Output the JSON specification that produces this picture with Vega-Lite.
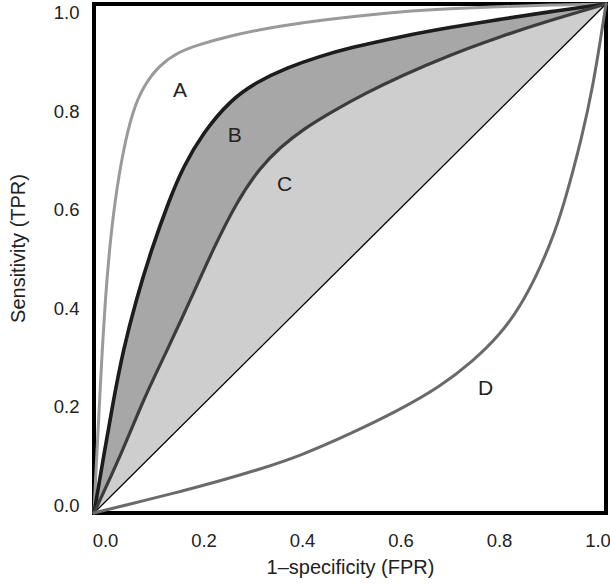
{
  "$schema": "https://vega.github.io/schema/vega-lite/v6.json",
  "autosize": "none",
  "width": 512,
  "height": 509,
  "padding": {"left": 94, "top": 4, "right": 4, "bottom": 71},
  "background": "white",
  "config": {
    "view": {"stroke": "black", "strokeWidth": 4},
    "axis": {
      "grid": false, "ticks": false, "domain": false, "labelFlush": false,
      "labelFont": "Liberation Sans",
      "labelFontSize": 18.5, "labelColor": "#222",
      "titleFont": "Liberation Sans",
      "titleFontSize": 20, "titleFontWeight": "normal", "titleColor": "#222"
    }
  },
  "datasets": {
    "curves": [
      {"curve": "A", "fpr": 0, "tpr": 0},
      {"curve": "A", "fpr": 0.003, "tpr": 0.065},
      {"curve": "A", "fpr": 0.006, "tpr": 0.124},
      {"curve": "A", "fpr": 0.011, "tpr": 0.222},
      {"curve": "A", "fpr": 0.016, "tpr": 0.320},
      {"curve": "A", "fpr": 0.022, "tpr": 0.418},
      {"curve": "A", "fpr": 0.030, "tpr": 0.517},
      {"curve": "A", "fpr": 0.041, "tpr": 0.615},
      {"curve": "A", "fpr": 0.057, "tpr": 0.713},
      {"curve": "A", "fpr": 0.076, "tpr": 0.792},
      {"curve": "A", "fpr": 0.098, "tpr": 0.841},
      {"curve": "A", "fpr": 0.128, "tpr": 0.880},
      {"curve": "A", "fpr": 0.165, "tpr": 0.906},
      {"curve": "A", "fpr": 0.207, "tpr": 0.921},
      {"curve": "A", "fpr": 0.266, "tpr": 0.937},
      {"curve": "A", "fpr": 0.324, "tpr": 0.950},
      {"curve": "A", "fpr": 0.402, "tpr": 0.963},
      {"curve": "A", "fpr": 0.500, "tpr": 0.975},
      {"curve": "A", "fpr": 0.598, "tpr": 0.985},
      {"curve": "A", "fpr": 0.695, "tpr": 0.991},
      {"curve": "A", "fpr": 0.793, "tpr": 0.995},
      {"curve": "A", "fpr": 0.891, "tpr": 0.998},
      {"curve": "A", "fpr": 1, "tpr": 1},
      {"curve": "B", "fpr": 0, "tpr": 0},
      {"curve": "B", "fpr": 0.021, "tpr": 0.124},
      {"curve": "B", "fpr": 0.038, "tpr": 0.222},
      {"curve": "B", "fpr": 0.057, "tpr": 0.320},
      {"curve": "B", "fpr": 0.082, "tpr": 0.418},
      {"curve": "B", "fpr": 0.112, "tpr": 0.517},
      {"curve": "B", "fpr": 0.147, "tpr": 0.615},
      {"curve": "B", "fpr": 0.174, "tpr": 0.680},
      {"curve": "B", "fpr": 0.213, "tpr": 0.747},
      {"curve": "B", "fpr": 0.266, "tpr": 0.811},
      {"curve": "B", "fpr": 0.318, "tpr": 0.847},
      {"curve": "B", "fpr": 0.377, "tpr": 0.875},
      {"curve": "B", "fpr": 0.440, "tpr": 0.897},
      {"curve": "B", "fpr": 0.500, "tpr": 0.914},
      {"curve": "B", "fpr": 0.598, "tpr": 0.936},
      {"curve": "B", "fpr": 0.695, "tpr": 0.954},
      {"curve": "B", "fpr": 0.793, "tpr": 0.970},
      {"curve": "B", "fpr": 0.891, "tpr": 0.985},
      {"curve": "B", "fpr": 1, "tpr": 1},
      {"curve": "C", "fpr": 0, "tpr": 0},
      {"curve": "C", "fpr": 0.057, "tpr": 0.124},
      {"curve": "C", "fpr": 0.096, "tpr": 0.222},
      {"curve": "C", "fpr": 0.143, "tpr": 0.320},
      {"curve": "C", "fpr": 0.188, "tpr": 0.418},
      {"curve": "C", "fpr": 0.232, "tpr": 0.517},
      {"curve": "C", "fpr": 0.279, "tpr": 0.612},
      {"curve": "C", "fpr": 0.324, "tpr": 0.678},
      {"curve": "C", "fpr": 0.363, "tpr": 0.718},
      {"curve": "C", "fpr": 0.410, "tpr": 0.755},
      {"curve": "C", "fpr": 0.467, "tpr": 0.790},
      {"curve": "C", "fpr": 0.533, "tpr": 0.826},
      {"curve": "C", "fpr": 0.598, "tpr": 0.858},
      {"curve": "C", "fpr": 0.695, "tpr": 0.900},
      {"curve": "C", "fpr": 0.793, "tpr": 0.936},
      {"curve": "C", "fpr": 0.891, "tpr": 0.968},
      {"curve": "C", "fpr": 1, "tpr": 1},
      {"curve": "D", "fpr": 0, "tpr": 0},
      {"curve": "D", "fpr": 0.104, "tpr": 0.026},
      {"curve": "D", "fpr": 0.168, "tpr": 0.042},
      {"curve": "D", "fpr": 0.246, "tpr": 0.063},
      {"curve": "D", "fpr": 0.324, "tpr": 0.086},
      {"curve": "D", "fpr": 0.402, "tpr": 0.112},
      {"curve": "D", "fpr": 0.500, "tpr": 0.155},
      {"curve": "D", "fpr": 0.598, "tpr": 0.203},
      {"curve": "D", "fpr": 0.676, "tpr": 0.248},
      {"curve": "D", "fpr": 0.740, "tpr": 0.298},
      {"curve": "D", "fpr": 0.793, "tpr": 0.350},
      {"curve": "D", "fpr": 0.832, "tpr": 0.405},
      {"curve": "D", "fpr": 0.865, "tpr": 0.468},
      {"curve": "D", "fpr": 0.891, "tpr": 0.528},
      {"curve": "D", "fpr": 0.916, "tpr": 0.598},
      {"curve": "D", "fpr": 0.955, "tpr": 0.745},
      {"curve": "D", "fpr": 0.975, "tpr": 0.843},
      {"curve": "D", "fpr": 0.988, "tpr": 0.922},
      {"curve": "D", "fpr": 1, "tpr": 1}
    ],
    "diag": [
      {"fpr": 0, "tpr": 0},
      {"fpr": 1, "tpr": 1}
    ],
    "labels": [
      {"curve": "A", "fpr": 0.168, "tpr": 0.829},
      {"curve": "B", "fpr": 0.275, "tpr": 0.741},
      {"curve": "C", "fpr": 0.372, "tpr": 0.644},
      {"curve": "D", "fpr": 0.765, "tpr": 0.243}
    ]
  },
  "layer": [
    {
      "data": {"name": "curves"},
      "transform": [{"filter": "datum.curve === 'B'"}],
      "mark": {"type": "area", "interpolate": "basis", "color": "#a7a7a7"},
      "encoding": {
        "x": {"field": "fpr", "type": "quantitative",
              "scale": {"domain": [0, 1], "nice": false, "zero": false},
              "axis": {"title": "1\u2013specificity (FPR)", "values": [0, 0.2, 0.4, 0.6, 0.8, 1], "format": ".1f",
                       "labelPadding": 18, "labelOffset": {"expr": "11 - 19.5*datum.value"},
                       "titleY": 60, "titleBaseline": "alphabetic"}},
        "y": {"field": "tpr", "type": "quantitative",
              "scale": {"domain": [0, 1], "nice": false, "zero": false},
              "axis": {"title": "Sensitivity (TPR)", "values": [0, 0.2, 0.4, 0.6, 0.8, 1], "format": ".1f",
                       "labelPadding": 15, "labelOffset": {"expr": "-8 + 16.5*datum.value"},
                       "titleX": -70, "titleY": 244, "titleAngle": -90, "titleAlign": "center", "titleBaseline": "alphabetic"}},
        "y2": {"field": "fpr"}
      }
    },
    {
      "data": {"name": "curves"},
      "transform": [{"filter": "datum.curve === 'C'"}],
      "mark": {"type": "area", "interpolate": "basis", "color": "#cecece"},
      "encoding": {
        "x": {"field": "fpr", "type": "quantitative"},
        "y": {"field": "tpr", "type": "quantitative"},
        "y2": {"field": "fpr"}
      }
    },
    {
      "data": {"name": "diag"},
      "mark": {"type": "line", "color": "#000000", "strokeWidth": 1.3},
      "encoding": {
        "x": {"field": "fpr", "type": "quantitative"},
        "y": {"field": "tpr", "type": "quantitative"}
      }
    },
    {
      "data": {"name": "curves"},
      "mark": {"type": "line", "interpolate": "basis", "strokeCap": "round"},
      "encoding": {
        "x": {"field": "fpr", "type": "quantitative"},
        "y": {"field": "tpr", "type": "quantitative"},
        "detail": {"field": "curve"},
        "color": {"field": "curve", "type": "nominal", "legend": null,
                  "scale": {"domain": ["A", "B", "C", "D"], "range": ["#9a9a9a", "#1c1c1c", "#3c3c3c", "#6a6a6a"]}},
        "strokeWidth": {"field": "curve", "type": "nominal", "legend": null,
                        "scale": {"type": "ordinal", "domain": ["A", "B", "C", "D"], "range": [3, 3.6, 3.2, 3]}}
      }
    },
    {
      "data": {"name": "labels"},
      "mark": {"type": "text", "font": "Liberation Sans", "fontSize": 21, "color": "#222", "align": "center", "baseline": "middle"},
      "encoding": {
        "x": {"field": "fpr", "type": "quantitative"},
        "y": {"field": "tpr", "type": "quantitative"},
        "text": {"field": "curve"}
      }
    }
  ]
}
